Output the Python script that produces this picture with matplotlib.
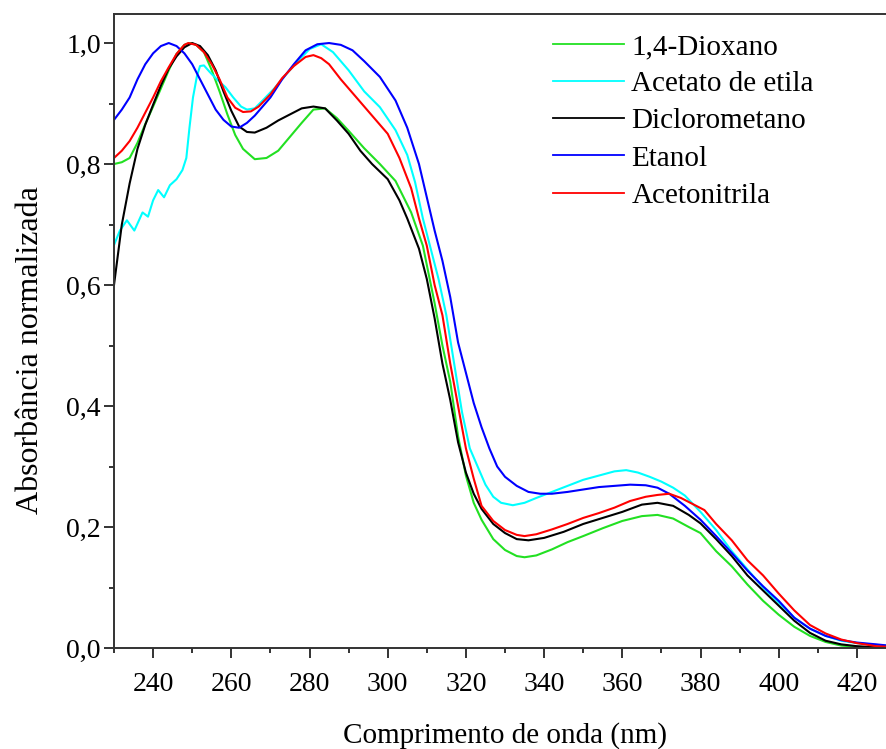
import numpy as np
import matplotlib
matplotlib.use("Agg")
from matplotlib import pyplot as plt
from matplotlib.ticker import MultipleLocator, FuncFormatter

plt.rcParams['font.family'] = ['Liberation Serif', 'DejaVu Serif']

# 1,4-Dioxano
wl_diox = [230, 232, 234, 236, 238, 240, 242, 244, 246, 248, 249.5, 251, 253, 255, 257, 259, 261, 263, 266, 269,
           272, 275, 278, 281, 284, 287, 290, 294, 298, 302, 306, 309, 312, 314, 316, 318, 320, 322, 324, 327,
           330, 333, 335, 338, 342, 346, 350, 355, 360, 365, 369, 373, 377, 380, 384, 388, 392, 396, 400, 404,
           408, 412, 416, 420, 425, 428]
ab_diox = [0.800, 0.803, 0.810, 0.835, 0.866, 0.895, 0.925, 0.955, 0.982, 0.997, 1.000, 0.997, 0.985, 0.955, 0.920,
           0.882, 0.848, 0.825, 0.808, 0.810, 0.822, 0.845, 0.868, 0.890, 0.892, 0.876, 0.855, 0.826, 0.800, 0.772,
           0.720, 0.665, 0.570, 0.500, 0.440, 0.350, 0.285, 0.240, 0.212, 0.180, 0.162, 0.152, 0.150, 0.153, 0.163,
           0.175, 0.185, 0.198, 0.210, 0.218, 0.220, 0.214, 0.200, 0.190, 0.160, 0.135, 0.105, 0.078, 0.055, 0.035,
           0.020, 0.010, 0.004, 0.002, 0.001, 0.000]

# Acetato de etila
wl_acet = [230, 231.5, 233.3, 235.2, 237.3, 238.7, 240, 241.3, 242.8, 244.3, 246, 247.5, 248.5, 249.3, 250.2, 251.2,
           252, 253, 254.5, 256.3, 258.5, 260.5, 262.5, 264, 266, 268, 271, 274, 277, 280, 283, 286, 290, 294, 298,
           302, 305, 307, 309, 311, 313, 315, 317, 319, 321, 323, 325, 327, 329, 332, 335, 338, 342, 346, 350, 354,
           358, 361, 364, 367, 370, 373, 376, 380, 384, 388, 392, 396, 400, 404, 408, 412, 416, 420, 425, 428]
ab_acet = [0.666, 0.690, 0.707, 0.690, 0.720, 0.713, 0.740, 0.757, 0.745, 0.765, 0.775, 0.790, 0.810, 0.860, 0.910,
           0.945, 0.962, 0.963, 0.952, 0.940, 0.927, 0.910, 0.895, 0.890, 0.892, 0.905, 0.925, 0.948, 0.970, 0.990,
           0.998, 0.985, 0.955, 0.920, 0.894, 0.856, 0.815, 0.770, 0.710, 0.660, 0.610, 0.550, 0.470, 0.390, 0.330,
           0.300, 0.270, 0.250, 0.240, 0.236, 0.240, 0.248, 0.258, 0.268, 0.278, 0.285, 0.292, 0.294, 0.290, 0.283,
           0.275, 0.265, 0.252, 0.225, 0.195, 0.160, 0.130, 0.100, 0.075, 0.050, 0.032, 0.020, 0.012, 0.008, 0.005,
           0.004]

# Diclorometano
wl_dicl = [230, 232, 234, 236, 238, 240, 242, 244, 246, 248, 250, 252, 254, 256, 258, 260, 262, 264, 266, 269,
           272, 275, 278, 281, 284, 287, 290, 293, 296, 300, 303, 305, 308, 310, 312, 314, 316, 318, 320, 322,
           324, 327, 330, 333, 336, 340, 345, 350, 355, 360, 365, 369, 373, 377, 380, 384, 388, 392, 396, 400,
           404, 408, 412, 416, 420, 425, 428]
ab_dicl = [0.600, 0.700, 0.768, 0.825, 0.865, 0.898, 0.930, 0.958, 0.978, 0.993, 1.000, 0.995, 0.980, 0.955, 0.920,
           0.888, 0.862, 0.853, 0.852, 0.860, 0.872, 0.882, 0.892, 0.895, 0.892, 0.872, 0.850, 0.822, 0.800, 0.775,
           0.740, 0.710, 0.660, 0.610, 0.545, 0.470, 0.410, 0.340, 0.290, 0.255, 0.230, 0.205, 0.190, 0.180, 0.178,
           0.182, 0.192, 0.205, 0.215, 0.225, 0.237, 0.240, 0.235, 0.220, 0.206, 0.180, 0.152, 0.120, 0.095, 0.070,
           0.045, 0.025, 0.012, 0.006, 0.003, 0.001, 0.000]

# Etanol
wl_etan = [230, 232, 234, 236, 238, 240, 242, 244, 246, 248, 250, 252, 254, 256, 258, 260, 262, 264, 266, 268,
           270, 273, 276, 279, 282, 285, 288, 291, 294, 298, 302, 305, 308, 310, 312, 314, 316, 318, 320, 322,
           324, 326, 328, 330, 333, 336, 339, 342, 346, 350, 354, 358, 362, 366, 369, 372, 376, 380, 384, 388,
           392, 396, 400, 404, 408, 412, 416, 420, 425, 428]
ab_etan = [0.873, 0.890, 0.910, 0.940, 0.965, 0.983, 0.995, 1.000, 0.995, 0.983, 0.965, 0.940, 0.915, 0.890, 0.873,
           0.862, 0.860, 0.868, 0.880, 0.895, 0.910, 0.940, 0.965, 0.988, 0.998, 1.000, 0.997, 0.988, 0.970, 0.944,
           0.905, 0.860, 0.800, 0.745, 0.690, 0.640, 0.580, 0.505, 0.455, 0.405, 0.365, 0.330, 0.300, 0.283, 0.268,
           0.258, 0.255, 0.255, 0.258, 0.262, 0.266, 0.268, 0.270, 0.269, 0.265, 0.255, 0.235, 0.212, 0.185, 0.157,
           0.128, 0.102, 0.078, 0.050, 0.032, 0.020, 0.013, 0.009, 0.006, 0.004]

# Acetonitrila
wl_acn = [230, 232, 234, 236, 238, 240, 242, 244, 246, 248, 249, 251, 253, 255, 257, 259, 261, 263, 265, 267,
          270, 273, 276, 279, 281, 283, 285, 288, 292, 296, 300, 303, 306, 308, 310, 312, 314, 316, 318, 320,
          322, 324, 327, 330, 333, 335, 338, 342, 346, 350, 354, 358, 362, 366, 369, 372, 375, 378, 381, 384,
          388, 392, 396, 400, 404, 408, 412, 416, 420, 425, 428]
ab_acn = [0.810, 0.822, 0.838, 0.860, 0.885, 0.910, 0.937, 0.960, 0.982, 0.997, 1.000, 0.997, 0.985, 0.965, 0.940,
          0.910, 0.893, 0.886, 0.887, 0.895, 0.915, 0.942, 0.962, 0.977, 0.980, 0.975, 0.965, 0.940, 0.910, 0.880,
          0.850, 0.810, 0.760, 0.710, 0.665, 0.600, 0.550, 0.470, 0.400, 0.330, 0.280, 0.235, 0.210, 0.195, 0.187,
          0.185, 0.188, 0.196, 0.205, 0.215, 0.223, 0.232, 0.243, 0.250, 0.253, 0.255, 0.248, 0.238, 0.228, 0.205,
          0.178, 0.145, 0.120, 0.090, 0.062, 0.038, 0.024, 0.014, 0.008, 0.003, 0.002]

series = [
    ("1,4-Dioxano", wl_diox, ab_diox, "#22e022"),
    ("Acetato de etila", wl_acet, ab_acet, "#00ffff"),
    ("Diclorometano", wl_dicl, ab_dicl, "#000000"),
    ("Etanol", wl_etan, ab_etan, "#0000ff"),
    ("Acetonitrila", wl_acn, ab_acn, "#ff0000"),
]

fig = plt.figure(figsize=(8.87, 7.49), dpi=100)
# axes run past the right edge of the figure, like the cropped original
ax = fig.add_axes([114 / 887, 101 / 749, 782 / 887, 634 / 749])

for name, wl, ab, col in series:
    ax.plot(wl, ab, color=col, lw=1.5, label=name)

ax.set_xlim(230, 430)
ax.set_ylim(0, 1.048)
ax.set_xticks(np.arange(240, 430, 20))
ax.xaxis.set_minor_locator(MultipleLocator(10))
ax.yaxis.set_major_locator(MultipleLocator(0.2))
ax.yaxis.set_minor_locator(MultipleLocator(0.1))
ax.yaxis.set_major_formatter(FuncFormatter(lambda v, p: f"{v:.1f}".replace(".", ",")))

for s in ax.spines.values():
    s.set_linewidth(1.4)
    s.set_color("#333333")
ax.tick_params(which="major", direction="out", length=7.5, width=1.4, color="#333333",
               labelsize=20)
ax.tick_params(which="minor", direction="out", length=3.5, width=1.4, color="#333333")
ax.tick_params(axis="x", which="major", pad=10)
ax.tick_params(axis="y", which="major", pad=2)
ax.tick_params(top=False, right=False, which="both")

ax.set_xlabel("Comprimento de onda (nm)", fontsize=21, labelpad=18)
ax.set_ylabel("Absorbância normalizada", fontsize=23, labelpad=14)
ax.yaxis.set_label_coords(-0.088, 0.47)

leg = ax.legend(loc="upper left", bbox_to_anchor=(427 / 782, 1 - 8 / 634), frameon=False,
                fontsize=21, handlelength=2.45, handletextpad=0.25, labelspacing=0.37,
                borderaxespad=0)
for h in leg.get_lines():
    h.set_linewidth(1.3)

fig.savefig("out.png", dpi=100)
